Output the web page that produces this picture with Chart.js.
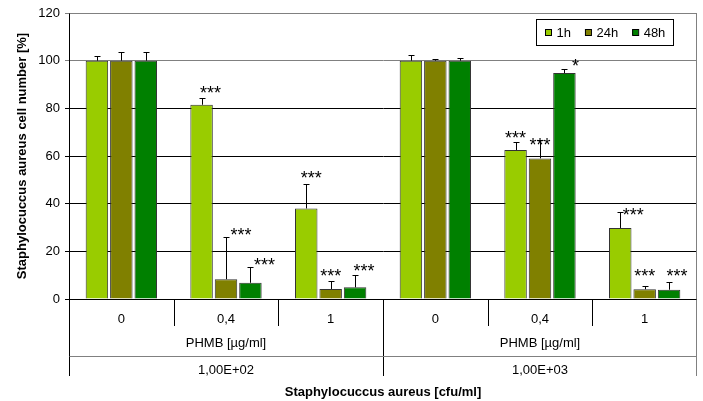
<!DOCTYPE html>
<html><head><meta charset="utf-8">
<script src="https://cdn.jsdelivr.net/npm/chart.js@4/dist/chart.umd.min.js"></script>
<style>html,body{margin:0;padding:0;background:#fff;}#wrap{width:703px;height:401px;}</style>
</head><body><div id="wrap"><canvas id="c" width="703" height="401"></canvas></div>
<script>
// ---- data ----
const categories = ['0', '0,4', '1', '0', '0,4', '1'];
const doseLabel = 'PHMB [µg/ml]';
const concentrations = ['1,00E+02', '1,00E+03'];
const seriesNames = ['1h', '24h', '48h'];
const values1h  = [100, 81.5, 38.0, 100, 62.5, 29.8];
const values24h = [100,  8.3,  4.2, 100, 59.0,  4.1];
const values48h = [100,  6.8,  4.9, 100, 94.8,  3.9];
const err1h  = [1.8,  2.8, 10.2, 2.3, 3.5, 6.8];
const err24h = [3.8, 17.6,  3.4, 0.7, 7.6, 1.5];
const err48h = [3.8,  6.5,  5.2, 1.0, 1.6, 3.2];
const stars1h  = ['', '***', '***', '', '***', '***'];
const stars24h = ['', '***', '***', '', '***', '***'];
const stars48h = ['', '***', '***', '', '*',   '***'];
const yTicks = [0, 20, 40, 60, 80, 100, 120];
const yTitle = 'Staphylocuccus aureus cell number [%]';
const xTitle = 'Staphylocuccus aureus [cfu/ml]';

// ---- styling / placement of annotations (not data) ----
const colors = ['#99CC00', '#808000', '#008000'];
const starOffsets = [ // [dx, dy] of star-text centre relative to bar centre / error-bar top
  [[0,0],[9,-9],[5,-10],[0,0],[0,-8],[13,-1]],
  [[0,0],[15,-7],[0,-9],[0,0],[0,0],[0,-14]],
  [[0,0],[14,-7],[9,-8],[0,0],[11,-8],[8,-10]]
];
const FONT = '"Liberation Sans", Arial, sans-serif';

const errors = [err1h, err24h, err48h];
const stars = [stars1h, stars24h, stars48h];
const seriesValues = [values1h, values24h, values48h];

const extras = {
  id: 'extras',
  afterDatasetsDraw(chart) {
    const ctx = chart.ctx, ys = chart.scales.y;
    ctx.save();
    chart.data.datasets.forEach((ds, i) => {
      const meta = chart.getDatasetMeta(i);
      meta.data.forEach((el, j) => {
        const v = ds.data[j], e = errors[i][j];
        const yt = ys.getPixelForValue(v + e);
        const x = Math.round(el.x) + 0.5;
        ctx.strokeStyle = '#000'; ctx.lineWidth = 1;
        ctx.beginPath();
        ctx.moveTo(x, el.y); ctx.lineTo(x, Math.round(yt) + 0.5);
        ctx.moveTo(x - 3, Math.round(yt) + 0.5); ctx.lineTo(x + 3, Math.round(yt) + 0.5);
        ctx.stroke();
        const s = stars[i][j];
        if (s) {
          const off = starOffsets[i][j];
          ctx.font = '18px ' + FONT;
          ctx.fillStyle = '#000';
          ctx.textAlign = 'center';
          ctx.textBaseline = 'alphabetic';
          ctx.fillText(s, el.x + off[0], yt + off[1] + 10.3);
        }
      });
    });
    ctx.restore();
  },
  afterDraw(chart) {
    const ctx = chart.ctx, a = chart.chartArea, xs = chart.scales.x;
    ctx.save();
    const L = Math.round(a.left) + 0.5, R = Math.round(a.right) - 0.5, B = Math.round(a.bottom) + 0.5;
    const line = (x1, y1, x2, y2, c) => { ctx.strokeStyle = c; ctx.lineWidth = 1; ctx.beginPath(); ctx.moveTo(x1, y1); ctx.lineTo(x2, y2); ctx.stroke(); };
    // plot frame (top/right)
    line(L, Math.round(a.top) + 0.5, R, Math.round(a.top) + 0.5, '#808080');
    line(R, Math.round(a.top), R, 376, '#808080');
    // x axis line
    line(L, B, R, B, '#000');
    // multi-level axis
    const n = categories.length, w = (a.right - a.left) / n;
    for (let i = 0; i <= n; i++) {
      const bx = Math.round(a.left + i * w) + 0.5;
      if (i === n) continue;
      if (i % 3 === 0) line(bx, B, bx, 376, '#000');
      else line(bx, B, bx, 326, '#000');
    }
    line(L, 356.5, R, 356.5, '#808080');
    ctx.fillStyle = '#000';
    ctx.textAlign = 'center';
    ctx.textBaseline = 'middle';
    ctx.font = '13px ' + FONT;
    categories.forEach((c, i) => ctx.fillText(c, xs.getPixelForValue(i), 319));
    concentrations.forEach((c, g) => {
      const cx = (xs.getPixelForValue(g * 3) + xs.getPixelForValue(g * 3 + 2)) / 2;
      ctx.fillText(doseLabel, cx, 343);
      ctx.fillText(c, cx, 370);
    });
    ctx.font = 'bold 13px ' + FONT;
    ctx.fillText(xTitle, (a.left + a.right) / 2, 392);
    // legend
    ctx.fillStyle = '#fff';
    ctx.fillRect(537, 19, 137, 27);
    ctx.strokeStyle = '#000';
    ctx.strokeRect(536.5, 19.5, 137, 26);
    ctx.font = '13px ' + FONT;
    ctx.textAlign = 'left';
    let lx = 545;
    chart.data.datasets.forEach(ds => {
      ctx.fillStyle = ds.backgroundColor;
      ctx.fillRect(lx, 29, 6, 6);
      ctx.strokeStyle = '#000';
      ctx.strokeRect(lx + 0.5, 29.5, 6, 6);
      ctx.fillStyle = '#000';
      ctx.fillText(ds.label, lx + 11.5, 33);
      lx += 11.5 + ctx.measureText(ds.label).width + 14;
    });
    ctx.restore();
  }
};

new Chart(document.getElementById('c'), {
  type: 'bar',
  data: {
    labels: categories,
    datasets: seriesNames.map((name, i) => ({
      label: name,
      data: seriesValues[i],
      backgroundColor: colors[i],
      borderColor: '#333',
      borderWidth: 1,
      categoryPercentage: 0.7,
      barPercentage: 0.92
    }))
  },
  options: {
    responsive: false,
    animation: false,
    devicePixelRatio: 1,
    layout: { padding: { top: 13, right: 6, left: 0, bottom: 0 } },
    plugins: { legend: { display: false }, tooltip: { enabled: false } },
    scales: {
      x: {
        type: 'category',
        offset: true,
        grid: { display: false },
        border: { display: false },
        ticks: { display: false },
        afterFit: s => { s.height = 102; }
      },
      y: {
        min: 0, max: 120,
        afterBuildTicks: s => { s.ticks = yTicks.map(v => ({ value: v })); },
        ticks: { color: '#000', font: { family: FONT, size: 13 }, padding: 5 },
        grid: {
          color: c => (c.tick && (c.tick.value === 100 || c.tick.value === 120)) ? '#808080' : '#000',
          tickLength: 4,
          drawTicks: true
        },
        border: { color: '#000', width: 1 },
        title: { display: true, text: yTitle, color: '#000', font: { family: FONT, size: 13, weight: 'bold' }, padding: { top: 15, bottom: 0 } },
        afterFit: s => { s.width = 69; }
      }
    }
  },
  plugins: [extras]
});
</script></body></html>
